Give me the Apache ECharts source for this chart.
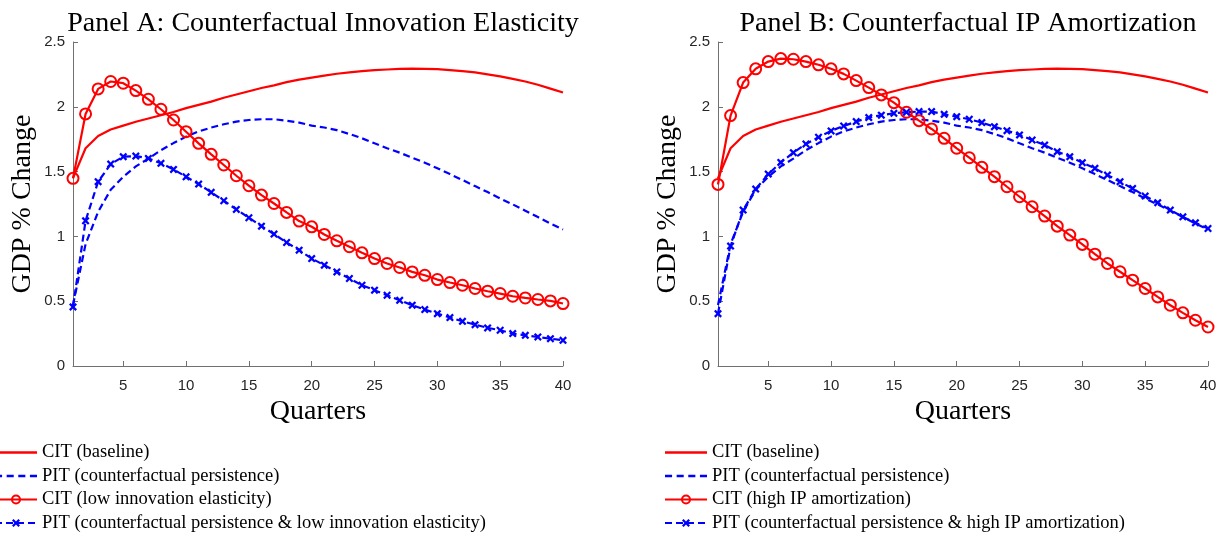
<!DOCTYPE html>
<html><head><meta charset="utf-8">
<script src="https://cdn.jsdelivr.net/npm/echarts@6/dist/echarts.min.js"></script>
<style>html,body{margin:0;padding:0;background:#fff}#c{width:1222px;height:535px}</style>
</head><body><div id="c"></div>
<script>
const quarters = [1,2,3,4,5,6,7,8,9,10,11,12,13,14,15,16,17,18,19,20,21,22,23,24,25,26,27,28,29,30,31,32,33,34,35,36,37,38,39,40];
const xTicks = [5,10,15,20,25,30,35,40];
const citBaseline = [1.45,1.68,1.775,1.825,1.855,1.885,1.91,1.935,1.96,1.99,2.015,2.04,2.07,2.095,2.12,2.145,2.165,2.19,2.21,2.225,2.24,2.255,2.265,2.275,2.283,2.288,2.292,2.294,2.293,2.29,2.283,2.275,2.265,2.25,2.235,2.215,2.195,2.17,2.14,2.11];
const pitCounterfactual = [0.47,0.94,1.19,1.36,1.46,1.54,1.60,1.665,1.72,1.77,1.81,1.84,1.865,1.886,1.898,1.904,1.904,1.893,1.878,1.855,1.84,1.82,1.79,1.757,1.718,1.68,1.646,1.607,1.569,1.525,1.481,1.435,1.388,1.342,1.293,1.247,1.198,1.149,1.10,1.054];
const citLowInnov = [1.448,1.945,2.138,2.195,2.182,2.125,2.058,1.981,1.898,1.808,1.718,1.633,1.551,1.468,1.391,1.319,1.254,1.185,1.118,1.074,1.015,0.966,0.92,0.873,0.829,0.791,0.76,0.726,0.70,0.667,0.644,0.623,0.598,0.577,0.559,0.538,0.525,0.513,0.502,0.482];
const pitLowInnov = [0.456,1.12,1.422,1.558,1.615,1.62,1.602,1.564,1.517,1.46,1.404,1.34,1.275,1.208,1.144,1.079,1.018,0.953,0.894,0.829,0.778,0.726,0.675,0.623,0.585,0.546,0.507,0.469,0.435,0.404,0.374,0.345,0.319,0.294,0.276,0.25,0.237,0.224,0.211,0.198];
const citHighIP = [1.401,1.932,2.187,2.293,2.349,2.372,2.367,2.349,2.324,2.293,2.254,2.202,2.148,2.092,2.032,1.958,1.893,1.829,1.757,1.68,1.607,1.533,1.461,1.383,1.306,1.229,1.157,1.079,1.01,0.938,0.863,0.791,0.727,0.662,0.598,0.533,0.469,0.41,0.353,0.301];
const pitHighIP = [0.404,0.925,1.203,1.365,1.481,1.571,1.646,1.713,1.765,1.814,1.852,1.886,1.917,1.935,1.95,1.958,1.963,1.963,1.942,1.924,1.904,1.878,1.847,1.816,1.783,1.744,1.705,1.654,1.615,1.569,1.525,1.473,1.422,1.37,1.311,1.26,1.203,1.151,1.105,1.061];
const panelTitles = ["Panel A: Counterfactual Innovation Elasticity","Panel B: Counterfactual IP Amortization"];
const namesA = ["CIT (baseline)","PIT (counterfactual persistence)","CIT (low innovation elasticity)","PIT (counterfactual persistence & low innovation elasticity)"];
const namesB = ["CIT (baseline)","PIT (counterfactual persistence)","CIT (high IP amortization)","PIT (counterfactual persistence & high IP amortization)"];

const pair = arr => quarters.map((q,i)=>[q,arr[i]]);
const SERIF = '"Liberation Serif", "DejaVu Serif", serif';
const SANS = '"Liberation Sans", Arial, sans-serif';
const RED = '#ff0000', BLUE = '#0000ff', AXC = '#707070';
const crossPath = 'path://M0,2L2,0L5,3L8,0L10,2L7,5L10,8L8,10L5,7L2,10L0,8L3,5Z';
const solidIcon = 'path://M0,0h42v2.4h-42z';
const dashIcon = 'path://M0,0h7v2.4h-7zM11.5,0h7v2.4h-7zM23,0h7v2.4h-7zM34.5,0h7v2.4h-7z';

function xAx(i){return {gridIndex:i,type:'value',min:1,max:40,
  name:'Quarters',nameLocation:'middle',nameGap:27,nameTextStyle:{fontFamily:SERIF,fontSize:28,color:'#000'},
  axisLine:{show:true,lineStyle:{color:AXC,width:1}},
  axisTick:{show:true,inside:true,length:5,customValues:xTicks,lineStyle:{color:AXC}},
  axisLabel:{customValues:xTicks,fontFamily:SANS,fontSize:15,color:'#262626',margin:12},
  splitLine:{show:false}};}
function yAx(i){return {gridIndex:i,type:'value',min:0,max:2.5,interval:0.5,
  name:'GDP % Change',nameLocation:'middle',nameGap:36,nameTextStyle:{fontFamily:SERIF,fontSize:28,color:'#000'},
  axisLine:{show:true,lineStyle:{color:AXC,width:1}},
  axisTick:{show:true,inside:true,length:5,lineStyle:{color:AXC}},
  axisLabel:{fontFamily:SANS,fontSize:15,color:'#262626',margin:8},
  splitLine:{show:false}};}
function mk(i,names,base,pitc,cit2,pit2){
  return [
    {name:names[0],type:'line',xAxisIndex:i,yAxisIndex:i,data:pair(base),symbol:'none',lineStyle:{color:RED,width:2.2},itemStyle:{color:RED}},
    {name:names[1],type:'line',xAxisIndex:i,yAxisIndex:i,data:pair(pitc),symbol:'none',lineStyle:{color:BLUE,width:2.2,type:[7,4]},itemStyle:{color:BLUE}},
    {name:names[2],type:'line',xAxisIndex:i,yAxisIndex:i,data:pair(cit2),symbol:'circle',symbolSize:11,lineStyle:{color:RED,width:2.2},itemStyle:{color:'rgba(255,255,255,0)',borderColor:RED,borderWidth:2}},
    {name:names[3],type:'line',xAxisIndex:i,yAxisIndex:i,data:pair(pit2),symbol:crossPath,symbolSize:8,lineStyle:{color:BLUE,width:2.2,type:[7,4]},itemStyle:{color:BLUE}}
  ];
}
function legendData(names){
  return [{name:names[0],icon:solidIcon},{name:names[1],icon:dashIcon},{name:names[2]},{name:names[3]}];
}
const legendCommon = {orient:'vertical',top:443,height:110,itemWidth:42,itemHeight:10,itemGap:4.5,
  textStyle:{fontFamily:SERIF,fontSize:18.5,color:'#000'},selectedMode:false,padding:0};
const chart = echarts.init(document.getElementById('c'),null,{renderer:'canvas'});
chart.setOption({
  animation:false,
  backgroundColor:'#fff',
  title:[
    {text:panelTitles[0],left:318,textAlign:'center',top:5,textStyle:{fontFamily:SERIF,fontSize:28,fontWeight:'normal',color:'#000'}},
    {text:panelTitles[1],left:963,textAlign:'center',top:5,textStyle:{fontFamily:SERIF,fontSize:28,fontWeight:'normal',color:'#000'}}
  ],
  grid:[{left:73,top:42,width:490,height:324},{left:718,top:42,width:490,height:324}],
  xAxis:[xAx(0),xAx(1)],
  yAxis:[yAx(0),yAx(1)],
  legend:[
    Object.assign({},legendCommon,{data:legendData(namesA),left:-6}),
    Object.assign({},legendCommon,{data:legendData(namesB),left:664})
  ],
  series:[].concat(mk(0,namesA,citBaseline,pitCounterfactual,citLowInnov,pitLowInnov),mk(1,namesB,citBaseline,pitCounterfactual,citHighIP,pitHighIP))
});
</script></body></html>
